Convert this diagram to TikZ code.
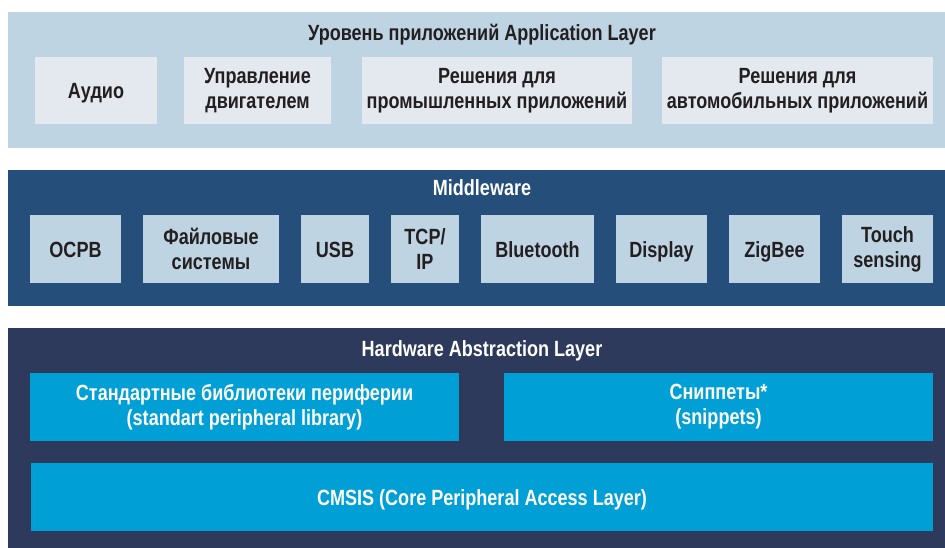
\documentclass[tikz,border=0pt]{standalone}
\usepackage{fontspec}
\setmainfont{Liberation Sans}[FakeStretch=0.82]
\usetikzlibrary{positioning}

\definecolor{appback}{HTML}{BFD4E3}
\definecolor{appfill}{HTML}{E4E8EF}
\definecolor{midback}{HTML}{254E7B}
\definecolor{midfill}{HTML}{BFD4E3}
\definecolor{halback}{HTML}{2E3A5C}
\definecolor{halfill}{HTML}{009FD5}
\definecolor{textdark}{HTML}{231F20}

\tikzset{
  layer/.style={anchor=north west, minimum width=937pt},
  boxfont/.style={font=\bfseries\fontsize{22}{25}\selectfont},
  oneline/.style={text height=16pt, text depth=0pt},
  title/.style={boxfont, oneline, anchor=center},
  appbox/.style={boxfont, fill=appfill, text=textdark, minimum height=67pt},
  midbox/.style={boxfont, fill=midfill, text=textdark, minimum height=68pt},
  halbox/.style={boxfont, fill=halfill, text=white, minimum height=68pt},
}

\begin{document}
\begin{tikzpicture}[x=1pt, y=-1pt, node distance=22pt,
    every node/.style={inner sep=0pt, outer sep=0pt, align=center}]

    \useasboundingbox (0,0) rectangle (945,548);
    \fill[white] (0,0) rectangle (945,548);

    % application layer
    \node[layer, fill=appback, minimum height=136pt] (applayer) at (8,12) {};
    \node[title, text=textdark] (apptitle) at (482,33) {Уровень приложений Application Layer};
    \node[appbox, oneline, anchor=north west, minimum width=122pt] (audio) at (35,57) {Аудио};
    \node[appbox, minimum width=147pt, right=27pt of audio] (motor) {Управление\\двигателем};
    \node[appbox, minimum width=270pt, right=31pt of motor] (industry) {Решения для\\промышленных приложений};
    \node[appbox, minimum width=271pt, right=30pt of industry] (auto) {Решения для\\автомобильных приложений};

    % middleware
    \node[layer, fill=midback, minimum height=136pt] (midlayer) at (8,170) {};
    \node[title, text=white] (midtitle) at (482,188) {Middleware};
    \node[midbox, oneline, anchor=north west, minimum width=91pt] (ocpb) at (30,215) {OCPB};
    \node[midbox, minimum width=136pt, right=of ocpb] (files) {Файловые\\системы};
    \node[midbox, oneline, minimum width=68pt, right=of files] (usb) {USB};
    \node[midbox, minimum width=68pt, right=of usb] (tcpip) {TCP/\\IP};
    \node[midbox, oneline, minimum width=113pt, right=of tcpip] (bluetooth) {Bluetooth};
    \node[midbox, oneline, minimum width=91pt, right=of bluetooth] (display) {Display};
    \node[midbox, oneline, minimum width=91pt, right=of display] (zigbee) {ZigBee};
    \node[midbox, minimum width=91pt, right=of zigbee] (touch) {Touch\\sensing};

    % hardware abstraction layer
    \node[layer, fill=halback, minimum height=220pt] (hallayer) at (8,328) {};
    \node[title, text=white] (haltitle) at (482,348) {Hardware Abstraction Layer};
    \node[halbox, anchor=north west, minimum width=429pt] (stdlib) at (30,373) {Стандартные библиотеки периферии\\(standart peripheral library)};
    \node[halbox, minimum width=429pt, right=45pt of stdlib] (snippets) {Сниппеты*\\(snippets)};
    \node[halbox, oneline, anchor=north west, minimum width=902pt] (cmsis) at (31,463) {CMSIS (Core Peripheral Access Layer)};

\end{tikzpicture}
\end{document}
